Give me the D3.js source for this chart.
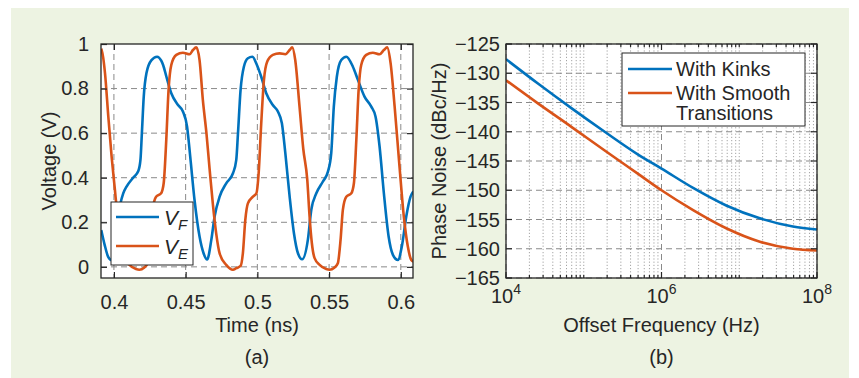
<!DOCTYPE html>
<html>
<head>
<meta charset="utf-8">
<script src="https://cdn.jsdelivr.net/npm/d3@7"></script>
<style>
body { margin: 0; background: #fff; }
svg { display: block; font-family: "Liberation Sans", Arial, Helvetica, sans-serif; }
</style>
</head>
<body>
<svg id="chart" width="859" height="378"></svg>
<script>
// (a) waveforms, time in ns, voltage in V
const timeF = [0.3912, 0.3935, 0.3960, 0.3985, 0.4005, 0.4025, 0.4046, 0.4065, 0.4088, 0.4134, 0.4170, 0.4185, 0.4195, 0.4208, 0.4227, 0.4262, 0.4301, 0.4330, 0.4343, 0.4366, 0.4400, 0.4447, 0.4481, 0.4510, 0.4532, 0.4562, 0.4597, 0.4625, 0.4650,
    0.4679, 0.4702, 0.4737, 0.4783, 0.4830, 0.4853, 0.4865, 0.4883, 0.4906, 0.4934, 0.4965, 0.4997, 0.5027, 0.5062, 0.5108, 0.5143, 0.5171, 0.5195, 0.5225, 0.5255, 0.5283, 0.5312,
    0.5352, 0.5376, 0.5411, 0.5457, 0.5492, 0.5515, 0.5533, 0.5554, 0.5585, 0.5620, 0.5666, 0.5701, 0.5747, 0.5794, 0.5824, 0.5852, 0.5882, 0.5915, 0.5945, 0.5980, 0.6007, 0.6038, 0.6068, 0.6087];
const voltF = [0.165, 0.10, 0.045, 0.030, 0.09, 0.20, 0.285, 0.33, 0.36, 0.40, 0.43, 0.48, 0.60, 0.764, 0.87, 0.928, 0.943, 0.925, 0.906, 0.853, 0.779, 0.726, 0.697, 0.629, 0.495, 0.30, 0.136, 0.061, 0.033,
    0.121, 0.226, 0.315, 0.375, 0.42, 0.48, 0.60, 0.794, 0.898, 0.936, 0.943, 0.906, 0.853, 0.779, 0.726, 0.697, 0.644, 0.51, 0.315, 0.151, 0.061, 0.034,
    0.121, 0.256, 0.33, 0.383, 0.427, 0.51, 0.719, 0.853, 0.928, 0.943, 0.898, 0.839, 0.764, 0.719, 0.674, 0.54, 0.33, 0.136, 0.054, 0.031, 0.091, 0.226, 0.315, 0.338];

const timeE = [0.3912, 0.3925, 0.3938, 0.3961, 0.3984, 0.4007, 0.4023, 0.4045, 0.4073, 0.4108, 0.4154, 0.4177, 0.4212, 0.4235, 0.4254, 0.4270, 0.4294, 0.4329, 0.4347, 0.4365, 0.4381, 0.4400, 0.4435, 0.4481, 0.4528, 0.4551, 0.4574,
    0.4597, 0.4620, 0.4645, 0.4667, 0.4690, 0.4713, 0.4737, 0.4783, 0.4830, 0.4853, 0.4883, 0.4899, 0.4916, 0.4934, 0.4969, 0.4993, 0.5009, 0.5027, 0.5046, 0.5069, 0.5108, 0.5155, 0.5195, 0.5225, 0.5243,
    0.5264, 0.5294, 0.5320, 0.5348, 0.5364, 0.5380, 0.5399, 0.5434, 0.5480, 0.5503, 0.5538, 0.5561, 0.5580, 0.5596, 0.5620, 0.5655, 0.5673, 0.5690, 0.5706, 0.5724, 0.5759, 0.5805, 0.5852, 0.5882, 0.5905,
    0.5929, 0.5957, 0.5991, 0.6021, 0.6049, 0.6073, 0.6088];
const voltE = [0.979, 0.94, 0.868, 0.674, 0.495, 0.345, 0.24, 0.11, 0.039, 0.009, -0.01, -0.013, -0.003, 0.016, 0.121, 0.256, 0.315, 0.33, 0.375, 0.57, 0.794, 0.906, 0.951, 0.961, 0.954, 0.973, 0.985,
    0.928, 0.749, 0.60, 0.44, 0.28, 0.15, 0.06, 0.009, -0.013, -0.006, 0.004, 0.061, 0.211, 0.285, 0.315, 0.33, 0.42, 0.644, 0.839, 0.921, 0.951, 0.958, 0.954, 0.973, 0.985,
    0.928, 0.719, 0.53, 0.39, 0.226, 0.106, 0.039, 0.009, -0.01, -0.013, -0.003, 0.016, 0.121, 0.256, 0.315, 0.33, 0.375, 0.57, 0.794, 0.906, 0.951, 0.961, 0.954, 0.973, 0.985,
    0.913, 0.719, 0.45, 0.226, 0.091, 0.031, 0.024];

const timeTicks = [0.4, 0.45, 0.5, 0.55, 0.6];
const voltTicks = [0, 0.2, 0.4, 0.6, 0.8, 1];

// (b) phase noise, offset in Hz, dBc/Hz
const offsetHz = [1e4, 2.6e4, 7e4, 1.86e5, 5e5, 1e6, 2.55e6, 6.8e6, 1.84e7, 4.9e7, 1e8];
const pnKinks = [-127.6, -131.8, -136.0, -140.0, -143.9, -146.3, -149.6, -152.6, -154.8, -156.2, -156.7];
const pnSmooth = [-131.2, -135.2, -139.2, -143.2, -147.2, -150.0, -153.4, -156.5, -158.8, -160.0, -160.3];

const offsetTicks = [1e4, 1e6, 1e8];
const offsetExps = [4, 6, 8];
const pnTicks = [-165, -160, -155, -150, -145, -140, -135, -130, -125];

const BLUE = "#0072bd";
const RED = "#d95319";
const INK = "#262626";
const GRID = "#8a8a8a";

const svg = d3.select("#chart");

svg.append("rect")
    .attr("x", 11).attr("y", 8)
    .attr("width", 838).attr("height", 370)
    .attr("fill", "#edf3e2");

function frame(g, x0, x1, y0, y1) {
    g.append("rect")
        .attr("x", x0).attr("y", y0)
        .attr("width", x1 - x0).attr("height", y1 - y0)
        .attr("fill", "#fff");
}

function box(g, x0, x1, y0, y1) {
    g.append("rect")
        .attr("x", x0).attr("y", y0)
        .attr("width", x1 - x0).attr("height", y1 - y0)
        .attr("fill", "none")
        .attr("stroke", INK)
        .attr("stroke-width", 1.3);
}

function drawSeries(g, xs, ys, x, y, color, clipId) {
    const pts = xs.map((t, i) => [t, ys[i]]);
    const line = d3.line()
        .x(d => x(d[0]))
        .y(d => y(d[1]))
        .curve(d3.curveMonotoneX);
    g.append("path")
        .datum(pts)
        .attr("d", line)
        .attr("fill", "none")
        .attr("stroke", color)
        .attr("stroke-width", 2.6)
        .attr("stroke-linejoin", "round")
        .attr("clip-path", "url(#" + clipId + ")");
}

function clip(id, x0, x1, y0, y1) {
    svg.append("clipPath").attr("id", id)
        .append("rect")
        .attr("x", x0).attr("y", y0)
        .attr("width", x1 - x0).attr("height", y1 - y0);
}

// ---------- (a) ----------
{
    const L = 101, R = 413, T = 44, B = 278;
    const x = d3.scaleLinear().domain([0.391, 0.6085]).range([L, R]);
    const y = d3.scaleLinear().domain([-0.05, 1]).range([B, T]);
    const g = svg.append("g");
    frame(g, L, R, T, B);
    clip("clipA", L, R, T, B);

    const grid = g.append("g")
        .attr("stroke", GRID)
        .attr("stroke-width", 1)
        .attr("stroke-dasharray", "6,4");
    grid.selectAll(".gx").data(timeTicks).join("line")
        .attr("x1", d => x(d)).attr("x2", d => x(d))
        .attr("y1", T).attr("y2", B);
    grid.selectAll(".gy").data(voltTicks.filter(v => v < 1)).join("line")
        .attr("x1", L).attr("x2", R)
        .attr("y1", d => y(d)).attr("y2", d => y(d));

    drawSeries(g, timeF, voltF, x, y, BLUE, "clipA");
    drawSeries(g, timeE, voltE, x, y, RED, "clipA");

    const fmt = d => String(d);
    const ax = g.append("g").attr("transform", "translate(0," + B + ")")
        .call(d3.axisBottom(x).tickValues(timeTicks).tickFormat(fmt).tickSizeInner(-6).tickSizeOuter(0).tickPadding(17));
    const axTop = g.append("g").attr("transform", "translate(0," + T + ")")
        .call(d3.axisTop(x).tickValues(timeTicks).tickFormat("").tickSizeInner(-6).tickSizeOuter(0));
    const ay = g.append("g").attr("transform", "translate(" + L + ",0)")
        .call(d3.axisLeft(y).tickValues(voltTicks).tickFormat(fmt).tickSizeInner(-6).tickSizeOuter(0).tickPadding(12));
    const ayR = g.append("g").attr("transform", "translate(" + R + ",0)")
        .call(d3.axisRight(y).tickValues(voltTicks).tickFormat("").tickSizeInner(-6).tickSizeOuter(0));
    for (let a of [ax, axTop, ay, ayR]) {
        a.select(".domain").remove();
        a.selectAll("line").attr("stroke", INK).attr("stroke-width", 1.2);
        a.selectAll("text").attr("fill", INK).attr("font-size", 20).attr("font-family", null);
    }
    box(g, L, R, T, B);

    g.append("text")
        .attr("x", (L + R) / 2).attr("y", 332)
        .attr("text-anchor", "middle")
        .attr("font-size", 20).attr("fill", INK)
        .text("Time (ns)");
    g.append("text")
        .attr("transform", "translate(56," + (T + B) / 2 + ") rotate(-90)")
        .attr("text-anchor", "middle")
        .attr("font-size", 20).attr("fill", INK)
        .text("Voltage (V)");
    g.append("text")
        .attr("x", (L + R) / 2).attr("y", 364)
        .attr("text-anchor", "middle")
        .attr("font-size", 20).attr("fill", INK)
        .text("(a)");

    // legend
    const lg = g.append("g");
    lg.append("rect")
        .attr("x", 111).attr("y", 202)
        .attr("width", 82).attr("height", 63)
        .attr("fill", "#fff")
        .attr("stroke", INK).attr("stroke-width", 1);
    const entries = [["F", BLUE, 217], ["E", RED, 246]];
    for (let [sub, color, ly] of entries) {
        lg.append("line")
            .attr("x1", 116).attr("x2", 159)
            .attr("y1", ly).attr("y2", ly)
            .attr("stroke", color).attr("stroke-width", 2.6);
        const t = lg.append("text")
            .attr("x", 164).attr("y", ly + 8)
            .attr("font-size", 21).attr("font-style", "italic").attr("fill", INK);
        t.append("tspan").text("V");
        t.append("tspan").attr("font-size", 15).attr("dy", 5).text(sub);
    }
}

// ---------- (b) ----------
{
    const L = 506, R = 817, T = 44, B = 278;
    const x = d3.scaleLog().domain([1e4, 1e8]).range([L, R]);
    const y = d3.scaleLinear().domain([-165, -125]).range([B, T]);
    const g = svg.append("g");
    frame(g, L, R, T, B);
    clip("clipB", L, R, T, B);

    const minor = [];
    for (let e = 4; e < 8; e++) {
        for (let m = 1; m < 10; m++) {
            const v = m * Math.pow(10, e);
            if (!offsetTicks.includes(v)) minor.push(v);
        }
    }
    g.append("g")
        .attr("stroke", "#9a9a9a").attr("stroke-width", 0.9)
        .attr("stroke-dasharray", "1.2,2")
        .selectAll("line").data(minor).join("line")
        .attr("x1", d => x(d)).attr("x2", d => x(d))
        .attr("y1", T).attr("y2", B);
    const grid = g.append("g")
        .attr("stroke", GRID).attr("stroke-width", 1)
        .attr("stroke-dasharray", "6,4");
    grid.selectAll(".gx").data(offsetTicks).join("line")
        .attr("x1", d => x(d)).attr("x2", d => x(d))
        .attr("y1", T).attr("y2", B);
    grid.selectAll(".gy").data(pnTicks).join("line")
        .attr("x1", L).attr("x2", R)
        .attr("y1", d => y(d)).attr("y2", d => y(d));

    drawSeries(g, offsetHz, pnKinks, d => x(d), y, BLUE, "clipB");
    drawSeries(g, offsetHz, pnSmooth, d => x(d), y, RED, "clipB");

    // ticks
    const tk = g.append("g").attr("stroke", INK).attr("stroke-width", 1.2);
    for (let [yy, dir] of [[B, -1], [T, 1]]) {
        tk.selectAll(null).data(offsetTicks).join("line")
            .attr("x1", d => x(d)).attr("x2", d => x(d))
            .attr("y1", yy).attr("y2", yy + dir * 6);
        tk.selectAll(null).data(minor).join("line")
            .attr("x1", d => x(d)).attr("x2", d => x(d))
            .attr("y1", yy).attr("y2", yy + dir * 3);
    }
    for (let [xx, dir] of [[L, 1], [R, -1]]) {
        tk.selectAll(null).data(pnTicks).join("line")
            .attr("x1", xx).attr("x2", xx + dir * 6)
            .attr("y1", d => y(d)).attr("y2", d => y(d));
    }
    box(g, L, R, T, B);

    g.selectAll(".ylab").data(pnTicks).join("text")
        .attr("x", L - 6).attr("y", d => y(d))
        .attr("dy", "0.36em")
        .attr("text-anchor", "end")
        .attr("font-size", 20).attr("fill", INK)
        .text(d => "\u2212" + Math.abs(d));
    const xl = g.selectAll(".xlab").data(offsetTicks).join("text")
        .attr("x", d => x(d)).attr("y", 303)
        .attr("text-anchor", "middle")
        .attr("font-size", 20).attr("fill", INK);
    xl.append("tspan").text("10");
    xl.append("tspan").attr("font-size", 14).attr("dy", -9).text((d, i) => offsetExps[i]);

    g.append("text")
        .attr("x", (L + R) / 2).attr("y", 332)
        .attr("text-anchor", "middle")
        .attr("font-size", 20).attr("fill", INK)
        .text("Offset Frequency (Hz)");
    g.append("text")
        .attr("transform", "translate(446," + (T + B) / 2 + ") rotate(-90)")
        .attr("text-anchor", "middle")
        .attr("font-size", 20).attr("fill", INK)
        .text("Phase Noise (dBc/Hz)");
    g.append("text")
        .attr("x", (L + R) / 2).attr("y", 364)
        .attr("text-anchor", "middle")
        .attr("font-size", 20).attr("fill", INK)
        .text("(b)");

    // legend
    const lg = g.append("g");
    lg.append("rect")
        .attr("x", 622).attr("y", 53)
        .attr("width", 183).attr("height", 73)
        .attr("fill", "#fff")
        .attr("stroke", INK).attr("stroke-width", 1);
    lg.append("line")
        .attr("x1", 628).attr("x2", 672).attr("y1", 69).attr("y2", 69)
        .attr("stroke", BLUE).attr("stroke-width", 2.6);
    lg.append("line")
        .attr("x1", 628).attr("x2", 672).attr("y1", 93).attr("y2", 93)
        .attr("stroke", RED).attr("stroke-width", 2.6);
    const labels = [["With Kinks", 76], ["With Smooth", 100], ["Transitions", 120]];
    lg.selectAll(".lt").data(labels).join("text")
        .attr("x", 676).attr("y", d => d[1])
        .attr("font-size", 20).attr("fill", INK)
        .text(d => d[0]);
}
</script>
</body>
</html>
